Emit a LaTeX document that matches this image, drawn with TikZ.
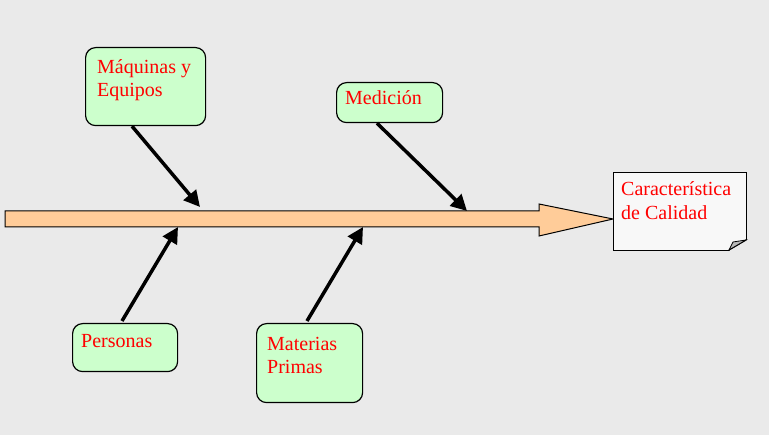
\documentclass[tikz,border=0pt]{standalone}
\usepackage{fontspec}
\setmainfont{Liberation Serif}
\usetikzlibrary{arrows.meta,calc}
\definecolor{bg}{HTML}{EAEAEA}
\definecolor{boxgreen}{HTML}{CCFFCC}
\definecolor{arrowfill}{HTML}{FFCC99}
\definecolor{notefill}{HTML}{F8F8F8}
\definecolor{txtred}{HTML}{FF0000}
\begin{document}
\begin{tikzpicture}[x=1pt,y=-1pt,
  causebox/.style={draw=black,line width=1.2pt,fill=boxgreen,rounded corners=10pt,inner sep=0pt,anchor=north west},
  lbl/.style={text=txtred,font=\fontsize{20}{24}\selectfont,anchor=base west,inner sep=0pt},
  causearrow/.style={line width=3.5pt,-{Triangle[length=16pt,width=16pt]}}]
\useasboundingbox[fill=bg] (0,0) rectangle (769,435);
% main arrow
\draw[fill=arrowfill,line width=1pt] (5,211) -- (539,211) -- (539,204) -- (613,219) -- (539,236) -- (539,227) -- (5,227) -- cycle;
% note
\node[draw=black,line width=1.2pt,fill=notefill,minimum width=133pt,minimum height=78pt,inner sep=0pt,anchor=north west] (note) at (613,172) {};
\fill[bg] (729,251) -- (747,251) -- (747,240) -- cycle;
\draw[line width=1.2pt] (729,250) -- (746,240);
\draw[fill=gray!55,line width=0.8pt] (729,250) -- (733,242) -- (746,240) -- cycle;
\node[lbl] (tq1) at (621,196) {Característica};
\node[lbl] (tq2) at (621,220) {de Calidad};
% cause boxes
\node[causebox,minimum width=120pt,minimum height=78pt] (mq) at (85,47) {};
\node[causebox,minimum width=106pt,minimum height=40pt] (md) at (336,82) {};
\node[causebox,minimum width=105pt,minimum height=48pt] (pe) at (72,323) {};
\node[causebox,minimum width=106pt,minimum height=79pt] (mp) at (256,323) {};
\node[lbl] (tmq1) at (97,74) {Máquinas y};
\node[lbl] (tmq2) at (97,97) {Equipos};
\node[lbl] (tmd) at (345,105) {Medición};
\node[lbl] (tpe) at (81,348) {Personas};
\node[lbl] (tmp1) at (267,351) {Materias};
\node[lbl] (tmp2) at (267,374) {Primas};
% tips on the spine
\coordinate (t1) at (200,207);
\coordinate (t2) at (467,211);
\coordinate (t3) at (178,227);
\coordinate (t4) at (363,227);
\draw[causearrow] ($(mq.south west)+(47,0)$) -- (t1);
\draw[causearrow] ($(md.south west)+(41,0)$) -- (t2);
\draw[causearrow] ($(pe.north west)+(50,-2)$) -- (t3);
\draw[causearrow] ($(mp.north west)+(51,-2)$) -- (t4);
\end{tikzpicture}
\end{document}
